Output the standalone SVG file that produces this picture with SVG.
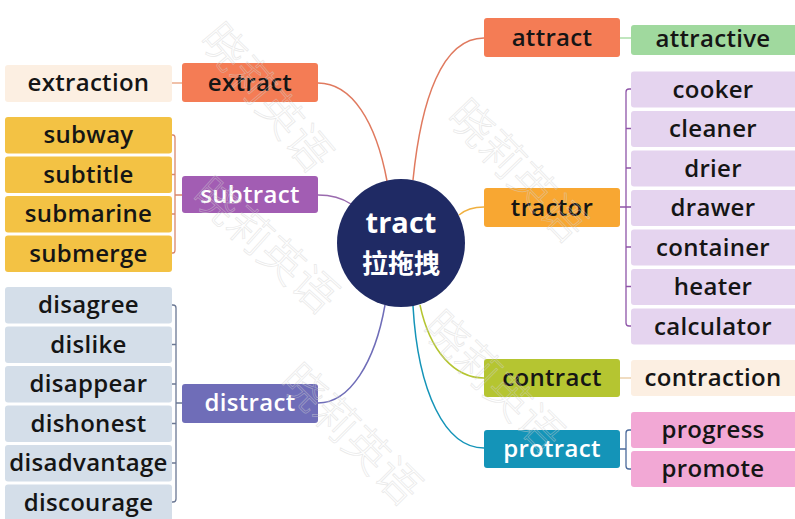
<svg xmlns="http://www.w3.org/2000/svg" width="795" height="519" viewBox="0 0 795 519">
<style>
.t{font-family:"Open Sans","Liberation Sans",sans-serif;font-weight:600;font-size:24px;letter-spacing:0.3px;fill:#151515;text-anchor:middle}
.w{fill:#ffffff}
.wm{font-family:"Noto Sans CJK SC",sans-serif;font-size:44px;font-weight:300;fill:none;stroke:#d2d2d2;stroke-width:0.7;opacity:0.5}
.c{fill:none;stroke-width:1.5}
.b{fill:none;stroke-width:1.3}
</style>
<rect width="795" height="519" fill="#ffffff"/>

<g id="connectors">
  <path class="c" stroke="#E07A5F" d="M318,83 C352,83 376,122 387,181"/>
  <path class="c" stroke="#E07A5F" d="M484,38 C442,38 421,100 413,180"/>
  <path class="c" stroke="#9A6AAE" d="M318,195 C332,195 342,198 351,204"/>
  <path class="c" stroke="#F0B040" d="M459,215 C466,209 474,207 484,207"/>
  <path class="c" stroke="#6F6DB8" d="M385,305 C375,362 350,403 318,403"/>
  <path class="c" stroke="#B5C531" d="M420,305 C430,352 455,378 484,378"/>
  <path class="c" stroke="#1494B8" d="M413,306 C418,392 445,448 484,448"/>
  <path class="b" stroke="#E8A07A" d="M172,83 H182"/>
  <path class="b" stroke="#9ED89B" d="M620,38 H631"/>
  <path class="b" stroke="#E8C9A0" d="M620,378 H631"/>
  <path class="b" stroke="#D9876A" d="M172,135 H173 Q175,135 175,138 V250 Q175,253 173,253 H172 M172,174.5 H175 M172,214 H175 M175,195 H182"/>
  <path class="b" stroke="#6B7894" d="M172,305 H173 Q176,305 176,308 V499 Q176,502 173,502 H172 M172,344.5 H176 M172,384 H176 M172,423.5 H176 M172,463 H176 M176,403 H182"/>
  <path class="b" stroke="#8E55A8" d="M631,89 H629 Q626,89 626,92 V323 Q626,326 629,326 H631 M626,128.5 H631 M626,168 H631 M626,247 H631 M626,286.5 H631 M620,207 H631"/>
  <path class="b" stroke="#4B6A9B" d="M631,430 H629 Q626,430 626,433 V466 Q626,469 629,469 H631 M620,449 H626"/>
</g>

<g id="center">
  <circle cx="401" cy="243" r="64" fill="#1F2A64"/>
  <text x="401" y="233" style="font-family:'Open Sans','Liberation Sans',sans-serif;font-weight:700;font-size:29px;fill:#fff;text-anchor:middle">tract</text>
  <text x="401" y="273" style="font-family:'Noto Sans CJK SC',sans-serif;font-weight:700;font-size:26px;fill:#fff;text-anchor:middle">拉拖拽</text>
</g>

<g id="extract"><rect x="182" y="63" width="136" height="39" rx="3" fill="#F47C55"/><text class="t" x="250" y="91">extract</text></g>
<g id="extraction"><rect x="5" y="65" width="167" height="37" rx="3" fill="#FCEFE2"/><text class="t" x="88.5" y="91">extraction</text></g>

<g id="subtract"><rect x="182" y="176" width="136" height="37" rx="3" fill="#A25DB3"/><text class="t w" x="250" y="203">subtract</text></g>
<g id="subway"><rect x="5" y="117" width="167" height="36.5" rx="3" fill="#F3C244"/><text class="t" x="88.5" y="143">subway</text></g>
<g id="subtitle"><rect x="5" y="156.5" width="167" height="36.5" rx="3" fill="#F3C244"/><text class="t" x="88.5" y="182.5">subtitle</text></g>
<g id="submarine"><rect x="5" y="196" width="167" height="36.5" rx="3" fill="#F3C244"/><text class="t" x="88.5" y="222">submarine</text></g>
<g id="submerge"><rect x="5" y="235.5" width="167" height="36.5" rx="3" fill="#F3C244"/><text class="t" x="88.5" y="261.5">submerge</text></g>

<g id="distract"><rect x="182" y="384" width="136" height="39" rx="3" fill="#6F6DB8"/><text class="t w" x="250" y="411">distract</text></g>
<g id="disagree"><rect x="5" y="287" width="167" height="36.5" rx="3" fill="#D4DEE9"/><text class="t" x="88.5" y="313">disagree</text></g>
<g id="dislike"><rect x="5" y="326.5" width="167" height="36.5" rx="3" fill="#D4DEE9"/><text class="t" x="88.5" y="352.5">dislike</text></g>
<g id="disappear"><rect x="5" y="366" width="167" height="36.5" rx="3" fill="#D4DEE9"/><text class="t" x="88.5" y="392">disappear</text></g>
<g id="dishonest"><rect x="5" y="405.5" width="167" height="36.5" rx="3" fill="#D4DEE9"/><text class="t" x="88.5" y="431.5">dishonest</text></g>
<g id="disadvantage"><rect x="5" y="445" width="167" height="36.5" rx="3" fill="#D4DEE9"/><text class="t" x="88.5" y="471">disadvantage</text></g>
<g id="discourage"><rect x="5" y="484.5" width="167" height="36.5" rx="3" fill="#D4DEE9"/><text class="t" x="88.5" y="510.5">discourage</text></g>

<g id="attract"><rect x="484" y="18" width="136" height="39" rx="3" fill="#F47C55"/><text class="t" x="552" y="46">attract</text></g>
<g id="attractive"><rect x="631" y="25" width="166" height="30" rx="3" fill="#A0D99E"/><text class="t" x="713" y="47">attractive</text></g>

<g id="tractor"><rect x="484" y="188" width="136" height="39" rx="3" fill="#F8A732"/><text class="t" x="552" y="215.5">tractor</text></g>
<g id="cooker"><rect x="631" y="71.5" width="166" height="36" rx="3" fill="#E5D4EF"/><text class="t" x="713" y="97.5">cooker</text></g>
<g id="cleaner"><rect x="631" y="111" width="166" height="36" rx="3" fill="#E5D4EF"/><text class="t" x="713" y="137">cleaner</text></g>
<g id="drier"><rect x="631" y="150.5" width="166" height="36" rx="3" fill="#E5D4EF"/><text class="t" x="713" y="176.5">drier</text></g>
<g id="drawer"><rect x="631" y="190" width="166" height="36" rx="3" fill="#E5D4EF"/><text class="t" x="713" y="216">drawer</text></g>
<g id="container"><rect x="631" y="229.5" width="166" height="36" rx="3" fill="#E5D4EF"/><text class="t" x="713" y="255.5">container</text></g>
<g id="heater"><rect x="631" y="269" width="166" height="36" rx="3" fill="#E5D4EF"/><text class="t" x="713" y="295">heater</text></g>
<g id="calculator"><rect x="631" y="308.5" width="166" height="36" rx="3" fill="#E5D4EF"/><text class="t" x="713" y="334.5">calculator</text></g>

<g id="contract"><rect x="484" y="359" width="136" height="38" rx="3" fill="#B5C531"/><text class="t" x="552" y="386">contract</text></g>
<g id="contraction"><rect x="631" y="360" width="166" height="36" rx="3" fill="#FCEFE2"/><text class="t" x="713" y="386">contraction</text></g>

<g id="protract"><rect x="484" y="430" width="136" height="38" rx="3" fill="#1494B8"/><text class="t w" x="552" y="457">protract</text></g>
<g id="progress"><rect x="631" y="412" width="166" height="36" rx="3" fill="#F2A8D5"/><text class="t" x="713" y="438">progress</text></g>
<g id="promote"><rect x="631" y="451" width="166" height="36" rx="3" fill="#F2A8D5"/><text class="t" x="713" y="477">promote</text></g>

<g id="watermarks">
  <text class="wm" transform="translate(198,40) rotate(50)">晓莉英语</text>
  <text class="wm" transform="translate(190,198) rotate(42)">晓莉英语</text>
  <text class="wm" transform="translate(278,383) rotate(45)">晓莉英语</text>
  <text class="wm" transform="translate(445,118) rotate(46)">晓莉英语</text>
  <text class="wm" transform="translate(420,330) rotate(45)">晓莉英语</text>
</g>
</svg>
